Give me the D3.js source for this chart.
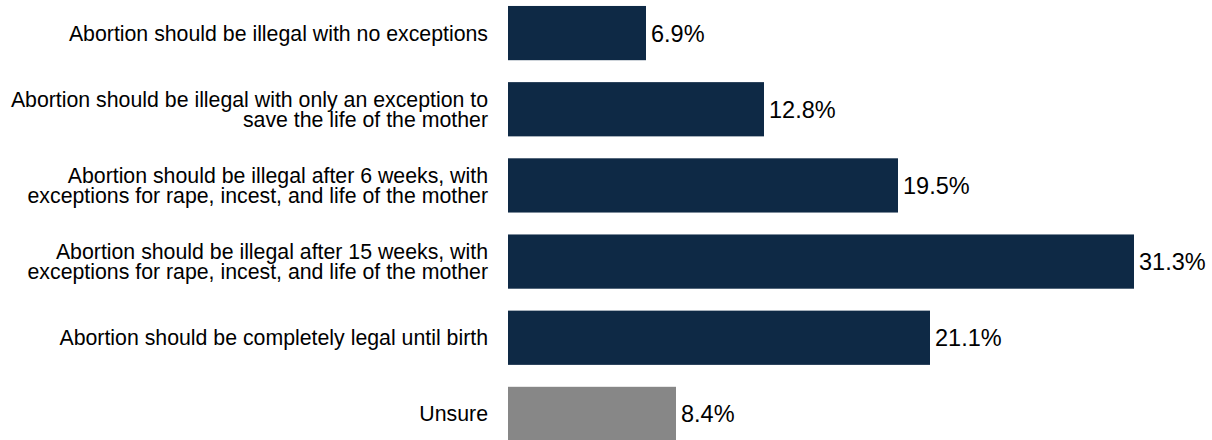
<!DOCTYPE html>
<html>
<head>
<meta charset="utf-8">
<script src="https://cdn.jsdelivr.net/npm/d3@7"></script>
<style>
  body { margin: 0; background: #fff; }
  svg { display: block; font-family: "Liberation Sans", Arial, sans-serif; }
</style>
</head>
<body>
<div id="chart"></div>
<script>
// categories (each line of a label is one string)
const categories = [
    ["Abortion should be illegal with no exceptions"],
    ["Abortion should be illegal with only an exception to", "save the life of the mother"],
    ["Abortion should be illegal after 6 weeks, with", "exceptions for rape, incest, and life of the mother"],
    ["Abortion should be illegal after 15 weeks, with", "exceptions for rape, incest, and life of the mother"],
    ["Abortion should be completely legal until birth"],
    ["Unsure"]
];
const values = [6.9, 12.8, 19.5, 31.3, 21.1, 8.4];
const valueLabels = ["6.9%", "12.8%", "19.5%", "31.3%", "21.1%", "8.4%"];

const width = 1212;
const height = 440;
const left = 508;

const data = categories.map((c, i) => ({ id: i, lines: c, value: values[i], label: valueLabels[i] }));

const svg = d3.select("#chart")
    .append("svg")
    .attr("width", width)
    .attr("height", height);

const x = d3.scaleLinear()
    .domain([0, 31.3])
    .range([left, 1134]);

const y = d3.scaleBand()
    .domain(data.map(d => d.id))
    .range([-5, 452])
    .paddingInner(0.288)
    .paddingOuter(0.144);

svg.selectAll("rect.bar")
    .data(data)
    .enter()
    .append("rect")
    .attr("class", "bar")
    .attr("x", x(0))
    .attr("y", d => y(d.id))
    .attr("width", d => x(d.value) - x(0))
    .attr("height", y.bandwidth())
    .attr("fill", (d, i) => i === data.length - 1 ? "#878787" : "#0e2945");

// value labels
svg.selectAll("text.val")
    .data(data)
    .enter()
    .append("text")
    .attr("class", "val")
    .attr("x", d => x(d.value) + 5)
    .attr("y", d => y(d.id) + y.bandwidth() / 2)
    .attr("dy", "0.36em")
    .attr("font-size", "23.5px")
    .attr("fill", "#000")
    .text(d => d.label);

// category labels
const cats = svg.selectAll("text.cat")
    .data(data)
    .enter()
    .append("text")
    .attr("class", "cat")
    .attr("text-anchor", "end")
    .attr("font-size", "21.3px")
    .attr("fill", "#000");

cats.each(function (d) {
    const t = d3.select(this);
    const lh = 20;
    const mid = y(d.id) + y.bandwidth() / 2;
    const y0 = mid - (d.lines.length - 1) * lh / 2;
    d.lines.forEach((line, j) => {
        t.append("tspan")
            .attr("x", left - 20)
            .attr("y", y0 + j * lh)
            .attr("dy", "0.35em")
            .text(line);
    });
});
</script>
</body>
</html>
